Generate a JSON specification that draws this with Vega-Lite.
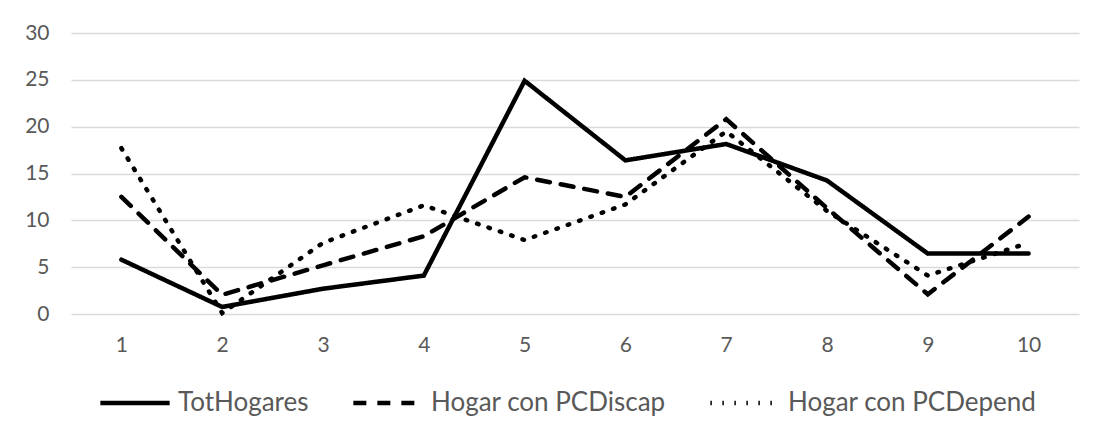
{
  "$schema": "https://vega.github.io/schema/vega-lite/v6.json",
  "width": 1008,
  "height": 281,
  "autosize": {"type": "none"},
  "padding": {"left": 71, "top": 33, "right": 24, "bottom": 130},
  "background": "white",
  "config": {
    "view": {"stroke": null},
    "font": "Lato",
    "axis": {"labelFont": "Lato", "labelColor": "#595959", "labelFontSize": 21, "domain": false, "ticks": false, "title": null},
    "legend": {"labelFont": "Lato", "labelColor": "#595959", "labelFontSize": 26, "labelLimit": 400}
  },
  "data": {
    "values": [
      {"x": 1, "serie": "TotHogares", "v": 5.8},
      {"x": 2, "serie": "TotHogares", "v": 0.75},
      {"x": 3, "serie": "TotHogares", "v": 2.7},
      {"x": 4, "serie": "TotHogares", "v": 4.1},
      {"x": 5, "serie": "TotHogares", "v": 24.9},
      {"x": 6, "serie": "TotHogares", "v": 16.4},
      {"x": 7, "serie": "TotHogares", "v": 18.15},
      {"x": 8, "serie": "TotHogares", "v": 14.25},
      {"x": 9, "serie": "TotHogares", "v": 6.45},
      {"x": 10, "serie": "TotHogares", "v": 6.45},
      {"x": 1, "serie": "Hogar con PCDiscap", "v": 12.5},
      {"x": 2, "serie": "Hogar con PCDiscap", "v": 2.05},
      {"x": 3, "serie": "Hogar con PCDiscap", "v": 5.2},
      {"x": 4, "serie": "Hogar con PCDiscap", "v": 8.3},
      {"x": 5, "serie": "Hogar con PCDiscap", "v": 14.6},
      {"x": 6, "serie": "Hogar con PCDiscap", "v": 12.5},
      {"x": 7, "serie": "Hogar con PCDiscap", "v": 20.8},
      {"x": 8, "serie": "Hogar con PCDiscap", "v": 11.3},
      {"x": 9, "serie": "Hogar con PCDiscap", "v": 2.1},
      {"x": 10, "serie": "Hogar con PCDiscap", "v": 10.4},
      {"x": 1, "serie": "Hogar con PCDepend", "v": 17.7},
      {"x": 2, "serie": "Hogar con PCDepend", "v": 0.1},
      {"x": 3, "serie": "Hogar con PCDepend", "v": 7.6},
      {"x": 4, "serie": "Hogar con PCDepend", "v": 11.6},
      {"x": 5, "serie": "Hogar con PCDepend", "v": 7.9},
      {"x": 6, "serie": "Hogar con PCDepend", "v": 11.7},
      {"x": 7, "serie": "Hogar con PCDepend", "v": 19.5},
      {"x": 8, "serie": "Hogar con PCDepend", "v": 11.0},
      {"x": 9, "serie": "Hogar con PCDepend", "v": 4.1},
      {"x": 10, "serie": "Hogar con PCDepend", "v": 7.6}
    ]
  },
  "mark": {"type": "line", "color": "black", "strokeWidth": 4.5, "strokeCap": "round", "strokeJoin": "miter"},
  "encoding": {
    "x": {
      "field": "x", "type": "ordinal",
      "scale": {"type": "point", "padding": 0.5},
      "axis": {"labelAngle": 0, "labelPadding": 20, "grid": false}
    },
    "y": {
      "field": "v", "type": "quantitative",
      "scale": {"domain": [0, 30], "nice": false},
      "axis": {"values": [0, 5, 10, 15, 20, 25, 30], "labelPadding": 22, "gridColor": "#d9d9d9", "gridWidth": 1.3}
    },
    "strokeDash": {
      "field": "serie", "type": "nominal",
      "sort": ["TotHogares", "Hogar con PCDiscap", "Hogar con PCDepend"],
      "scale": {
        "domain": ["TotHogares", "Hogar con PCDiscap", "Hogar con PCDepend"],
        "range": [[1, 0], [13, 11], [1.5, 10.5]]
      },
      "legend": {
        "title": null,
        "orient": "none",
        "direction": "horizontal",
        "legendX": 27,
        "legendY": 333,
        "symbolType": "stroke",
        "symbolSize": 4800,
        "symbolStrokeWidth": 4.5,
        "symbolStrokeColor": "black",
        "labelOffset": 6,
        "columnPadding": 35
      }
    }
  }
}
